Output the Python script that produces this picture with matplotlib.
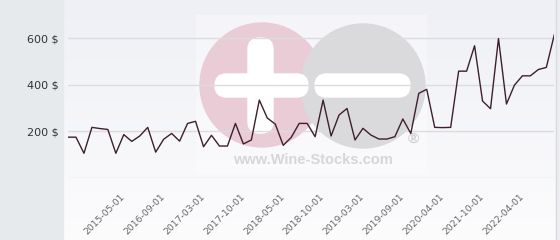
import matplotlib.pyplot as plt
import matplotlib.transforms as mtransforms
import numpy as np
from matplotlib.patches import Circle, FancyBboxPatch, Rectangle

# price per auction (in $)
prices = [
    175, 175, 106, 217, 212, 208, 106, 186, 157, 180,
    217, 111, 166, 191, 158, 234, 243, 134, 183, 137,
    137, 234, 146, 163, 334, 257, 231, 140, 174, 234,
    234, 177, 334, 180, 270, 298, 163, 213, 184, 167,
    167, 177, 253, 191, 363, 380, 217, 216, 217, 458,
    458, 567, 330, 297, 598, 317, 398, 438, 438, 465,
    474, 614,
]
date_ticks = [7, 12, 17, 22, 27, 32, 37, 42, 47, 52, 57]
date_labels = [
    "2015-05-01", "2016-09-01", "2017-03-01", "2017-10-01", "2018-05-01",
    "2018-10-01", "2019-03-01", "2019-09-01", "2020-04-01", "2021-10-01",
    "2022-04-01",
]
y_ticks = [200, 400, 600]
y_labels = ["200 $", "400 $", "600 $"]

W, H = 560, 240
fig = plt.figure(figsize=(W / 100, H / 100), dpi=100)

# background layer in pixel coordinates
bg = fig.add_axes([0, 0, 1, 1])
bg.set_xlim(0, W)
bg.set_ylim(H, 0)
bg.axis("off")

top = np.array([0xef, 0xf0, 0xf5]) / 255
bot = np.array([0xfc, 0xfc, 0xfd]) / 255
t = np.linspace(0, 1, 100)[:, None]
grad = (top * (1 - t) + bot * t)[:, None, :]
bg.imshow(grad, extent=[63, 556, H, 0], aspect="auto", zorder=0)
bg.add_patch(Rectangle((0, 0), 63, H, color="#e6eaed", zorder=1))
bg.add_patch(Rectangle((556, 0), 4, H, color="#eceef1", zorder=1))
bg.plot([556, 556], [0, H], color="#d8dade", lw=1, zorder=2)

# watermark logo
bg.add_patch(Rectangle((196, 15), 231, 159, color="white", alpha=0.35,
                       lw=0, zorder=1))
bg.add_patch(Circle((262, 85), 62, color="#eaccd6", zorder=2))
bg.add_patch(Circle((363, 86), 62, color="#dadadc", zorder=3))
for x0, y0, w, h in [(248, 38, 25, 95), (215, 74, 93, 23), (315, 74, 95, 23)]:
    bg.add_patch(FancyBboxPatch((x0, y0), w, h,
                                boxstyle="round,pad=0,rounding_size=11.5",
                                color="white", zorder=4))
bg.text(313, 160, "www.Wine-Stocks.com", ha="center", va="center",
        fontsize=10.5, fontweight="bold", family="Liberation Sans",
        color="#d6d6d8", zorder=4)
bg.text(413, 139, "\u00ae", ha="center", va="center", fontsize=11,
        fontweight="bold", family="Liberation Sans", color="#d2d2d4", zorder=4)

# chart
ax = fig.add_axes([68 / W, (H - 178) / H, (554.3 - 68) / W, 178 / H])
ax.patch.set_alpha(0)
ax.set_xlim(0, len(prices) - 1)
ax.set_ylim(0, 763)
for s in ax.spines.values():
    s.set_visible(False)

for v in [0] + y_ticks:
    ax.axhline(v, color="#dcdcdf", lw=1, zorder=1)

ax.plot(range(len(prices)), prices, color="#3d1f2d", lw=1, zorder=3)

ax.set_yticks(y_ticks)
ax.set_yticklabels(y_labels, fontsize=8, color="#333333")
ax.tick_params(axis="y", length=0, pad=7)

ax.set_xticks(date_ticks)
ax.set_xticklabels(date_labels, rotation=45, ha="right", va="top",
                   fontsize=6.7, color="#666666")
ax.tick_params(axis="x", length=0, pad=10)
shift = mtransforms.ScaledTranslation(3 / 100, 0, fig.dpi_scale_trans)
for lab in ax.get_xticklabels():
    lab.set_transform(lab.get_transform() + shift)

fig.savefig("out.png", dpi=100)
